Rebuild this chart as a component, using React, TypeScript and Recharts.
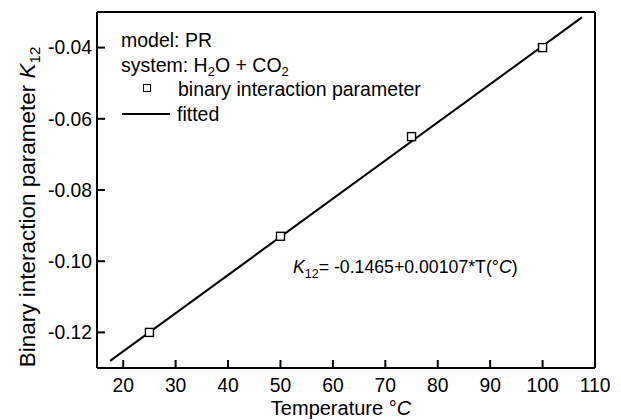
import { ScatterChart, Scatter, XAxis, YAxis, ReferenceLine, Legend, Customized } from "recharts";

const FONT = "'Liberation Sans', Arial, Helvetica, sans-serif";

// measured points (temperature °C vs K12)
const temps = [25, 50, 75, 100];
const k12 = [-0.12, -0.093, -0.065, -0.04];

// fitted line end points
const fitTemps = [17.5, 107.5];
const fitK12 = [-0.128, -0.0315];

const xTicks = [20, 30, 40, 50, 60, 70, 80, 90, 100, 110];
const yTicks = [-0.12, -0.1, -0.08, -0.06, -0.04];

const points = temps.map((t, i) => ({ t, k: k12[i] }));
const fitted = fitTemps.map((t, i) => ({ t, k: fitK12[i] }));

const subStyle = { fontSize: 13, verticalAlign: "-4px", lineHeight: 0 } as const;

function OpenSquare(props: any) {
  const { cx, cy } = props;
  if (cx == null || cy == null) return <g />;
  return <rect x={cx - 4} y={cy - 4} width={8} height={8} fill="#fff" stroke="#000" strokeWidth={1.4} />;
}

function LegendBox() {
  return (
    <div style={{ fontFamily: FONT, fontSize: 19.5, lineHeight: "24.7px", color: "#000", whiteSpace: "nowrap" }}>
      <div>model: PR</div>
      <div>
        system: H<sub style={subStyle}>2</sub>O + CO<sub style={subStyle}>2</sub>
      </div>
      <div style={{ position: "relative", paddingLeft: 57 }}>
        <span
          style={{
            position: "absolute",
            left: 22,
            top: 7,
            width: 6,
            height: 6,
            border: "1.4px solid #000",
          }}
        />
        binary interaction parameter
      </div>
      <div style={{ position: "relative", paddingLeft: 56 }}>
        <span style={{ position: "absolute", left: 1, top: 11, width: 48, height: 2, background: "#000" }} />
        fitted
      </div>
    </div>
  );
}

function Equation() {
  return (
    <text x={293} y={273} fontFamily={FONT} fontSize={17.7} fill="#000">
      <tspan fontStyle="italic">K</tspan>
      <tspan fontSize={12.5} dy={5}>12</tspan>
      <tspan dy={-5}>= -0.1465+0.00107*T(°</tspan>
      <tspan fontStyle="italic">C</tspan>
      <tspan>)</tspan>
    </text>
  );
}

function XLabel(props: any) {
  const vb = props.viewBox || {};
  const cx = vb.x + vb.width / 2;
  return (
    <text x={cx - 5} y={415} textAnchor="middle" fontFamily={FONT} fontSize={20} fill="#000">
      Temperature °<tspan fontStyle="italic">C</tspan>
    </text>
  );
}

function YLabel(props: any) {
  const vb = props.viewBox || {};
  const cy = vb.y + vb.height / 2 + 17;
  return (
    <text
      x={35}
      y={cy}
      transform={`rotate(-90, 35, ${cy})`}
      textAnchor="middle"
      fontFamily={FONT}
      fontSize={22.5}
      fill="#000"
    >
      Binary interaction parameter <tspan fontStyle="italic">K</tspan>
      <tspan fontSize={15} dy={5}>12</tspan>
    </text>
  );
}

export default function App() {
  const tickStyle = { fontFamily: FONT, fontSize: 19.3, fill: "#000" };
  return (
    <div style={{ position: "absolute", left: 0, top: 0, width: 621, height: 420, background: "#fff" }}>
      <ScatterChart width={621} height={420} margin={{ top: 12, right: 26, bottom: 0, left: 0 }}>
        <XAxis
          type="number"
          dataKey="t"
          domain={[15, 110]}
          ticks={xTicks}
          allowDataOverflow
          height={52}
          axisLine={{ stroke: "#000", strokeWidth: 2 }}
          tickLine={{ stroke: "#000", strokeWidth: 2 }}
          tickSize={-8}
          tickMargin={18}
          tick={tickStyle}
          label={<XLabel />}
        />
        <YAxis
          type="number"
          dataKey="k"
          domain={[-0.13, -0.03]}
          ticks={yTicks}
          allowDataOverflow
          width={97}
          axisLine={{ stroke: "#000", strokeWidth: 2 }}
          tickLine={{ stroke: "#000", strokeWidth: 2 }}
          tickSize={-8}
          tickMargin={13}
          tick={tickStyle}
          tickFormatter={(v: number) => v.toFixed(2)}
          label={<YLabel />}
        />
        <ReferenceLine y={-0.03} stroke="#000" strokeWidth={2} />
        <ReferenceLine x={110} stroke="#000" strokeWidth={2} />
        <Scatter
          name="fitted"
          data={fitted}
          line={{ stroke: "#000", strokeWidth: 2 }}
          shape={() => <g />}
          isAnimationActive={false}
        />
        <Scatter name="binary interaction parameter" data={points} shape={OpenSquare} isAnimationActive={false} />
        <Legend
          layout="vertical"
          align="center"
          verticalAlign="middle"
          wrapperStyle={{ left: 121, top: 28, width: 320 }}
          content={() => <LegendBox />}
        />
        <Customized component={<Equation />} />
      </ScatterChart>
    </div>
  );
}
